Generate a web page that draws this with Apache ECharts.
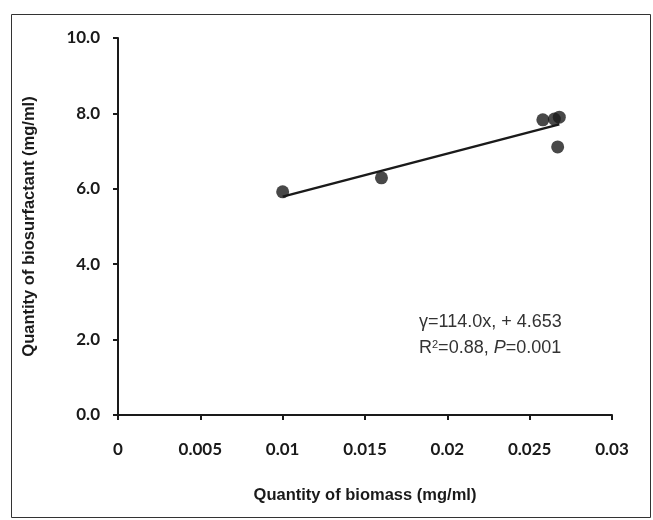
<!DOCTYPE html>
<html>
<head>
<meta charset="utf-8">
<script src="https://cdn.jsdelivr.net/npm/echarts@6/dist/echarts.min.js"></script>
<style>
  html, body { margin: 0; padding: 0; background: #fff; }
  #chart { width: 653px; height: 520px; }
</style>
</head>
<body>
<div id="chart"></div>
<script>
'use strict';

// measured points (biomass, biosurfactant)
var biomass = [0.010, 0.016, 0.0258, 0.0265, 0.0268, 0.0267];
var biosurfactant = [5.92, 6.29, 7.83, 7.85, 7.90, 7.11];

// fitted line y = 114.0x + 4.653, drawn between the ends of the data
var fitX = [0.010, 0.0268];
var fitY = [5.793, 7.708];

var xTicks = [0, 0.005, 0.01, 0.015, 0.02, 0.025, 0.03];
var yTicks = ['0.0', '2.0', '4.0', '6.0', '8.0', '10.0'];

var tickFont = {
  color: '#1a1a1a',
  fontFamily: 'Lato',
  fontWeight: 'bold',
  fontSize: 17
};

var titleFont = {
  color: '#1a1a1a',
  fontFamily: 'Liberation Sans',
  fontWeight: 'bold',
  fontSize: 16.5
};

var points = biomass.map(function (x, i) { return [x, biosurfactant[i]]; });
var fitLine = fitX.map(function (x, i) { return [x, fitY[i]]; });

var myChart = echarts.init(document.getElementById('chart'));

var option = {
  animation: false,
  backgroundColor: '#fff',
  grid: {
    left: 118,
    right: 41,
    top: 38,
    bottom: 105
  },
  xAxis: {
    type: 'value',
    min: 0,
    max: 0.03,
    interval: 0.005,
    name: 'Quantity of biomass (mg/ml)',
    nameLocation: 'middle',
    nameGap: 72,
    nameTextStyle: titleFont,
    axisLine: { lineStyle: { color: '#1a1a1a', width: 2 } },
    axisTick: { show: true, length: 5, lineStyle: { color: '#1a1a1a', width: 2 } },
    axisLabel: Object.assign({
      margin: 26,
      formatter: function (v) {
        var s = String(+v.toFixed(3));
        return xTicks.indexOf(+s) >= 0 ? s : '';
      }
    }, tickFont),
    splitLine: { show: false }
  },
  yAxis: {
    type: 'value',
    min: 0,
    max: 10,
    interval: 2,
    name: 'Quantity of biosurfactant (mg/ml)',
    nameLocation: 'middle',
    nameGap: 80,
    nameTextStyle: titleFont,
    axisLine: { show: true, lineStyle: { color: '#1a1a1a', width: 2 } },
    axisTick: { show: true, length: 5, lineStyle: { color: '#1a1a1a', width: 2 } },
    axisLabel: Object.assign({
      margin: 18,
      formatter: function (v) { return yTicks[Math.round(v / 2)]; }
    }, tickFont),
    splitLine: { show: false }
  },
  series: [{
    name: 'fit',
    type: 'line',
    data: fitLine,
    symbol: 'none',
    lineStyle: { color: '#1a1a1a', width: 2.5 },
    z: 2
  }, {
    name: 'data',
    type: 'scatter',
    data: points,
    symbol: 'circle',
    symbolSize: 13,
    itemStyle: { color: '#1a1a1a' },
    z: 3
  }],
  graphic: [{
    type: 'rect',
    shape: { x: 11.5, y: 14.5, width: 639, height: 503 },
    style: { fill: null, stroke: '#333', lineWidth: 1 },
    silent: true
  }, {
    type: 'text',
    left: 419,
    top: 313,
    style: {
      text: '{n|\u03b3=114.0x, + 4.653}',
      rich: {
        n: { fontFamily: 'Liberation Sans', fontSize: 18, fill: '#333' }
      }
    }
  }, {
    type: 'text',
    left: 419,
    top: 339,
    style: {
      text: '{n|R}{s|2}{n|=0.88, }{i|P}{n|=0.001}',
      rich: {
        n: { fontFamily: 'Liberation Sans', fontSize: 18, fill: '#333' },
        i: { fontFamily: 'Liberation Sans', fontSize: 18, fontStyle: 'italic', fill: '#333' },
        s: { fontFamily: 'Liberation Sans', fontSize: 11, fill: '#333', verticalAlign: 'top', padding: [0, 0, 7, 0] }
      }
    }
  }]
};

myChart.setOption(option);
</script>
</body>
</html>
